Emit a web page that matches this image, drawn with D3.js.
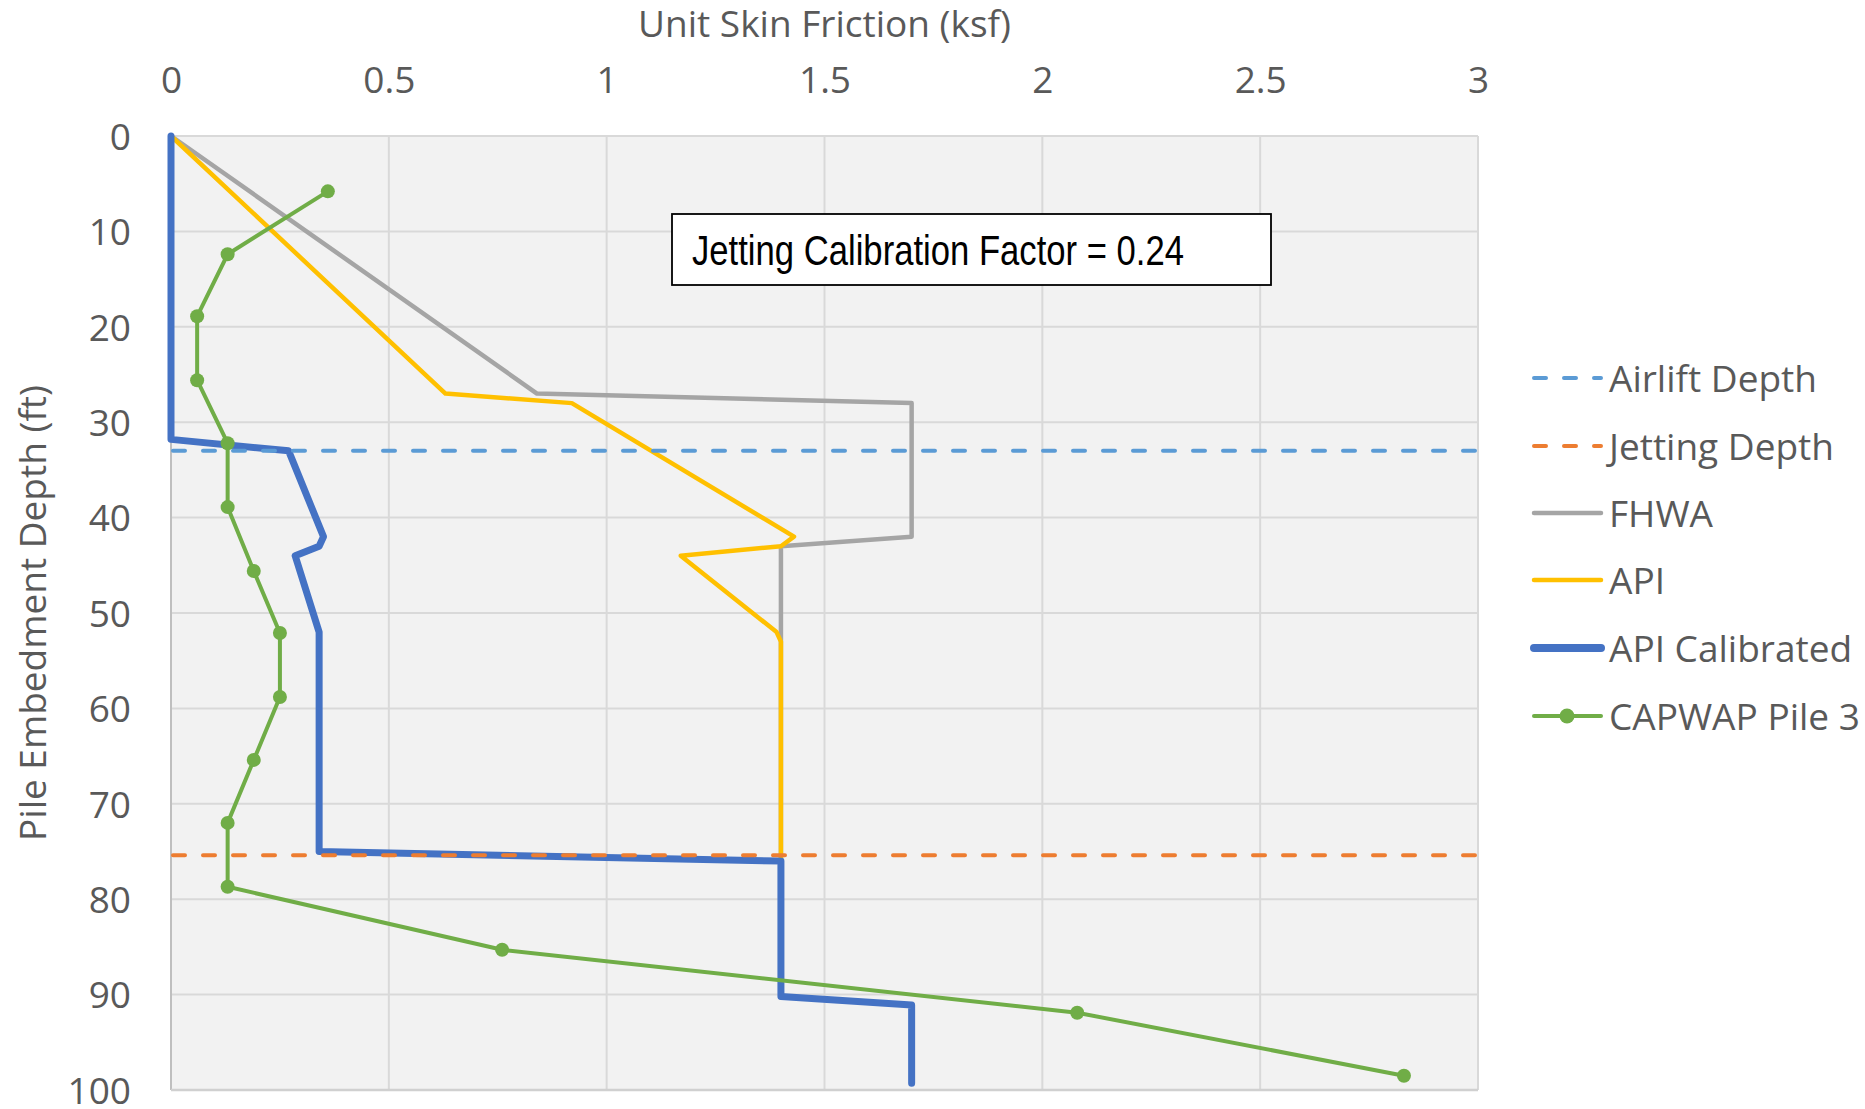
<!DOCTYPE html>
<html>
<head>
<meta charset="utf-8">
<script src="https://cdn.jsdelivr.net/npm/d3@7"></script>
<style>
  html, body { margin: 0; padding: 0; background: #ffffff; }
  svg { display: block; }
</style>
</head>
<body>
<svg id="chart" width="1865" height="1109"></svg>
<script>
// ---------- DATA ----------
const xTicks = [0, 0.5, 1, 1.5, 2, 2.5, 3];
const yTicks = [0, 10, 20, 30, 40, 50, 60, 70, 80, 90, 100];

const airliftDepth = 33;
const jettingDepth = 75.4;

// [friction (ksf), depth (ft)]
const fhwa = [[0, 0], [0.84, 27], [1.70, 28], [1.70, 42], [1.40, 43], [1.40, 76]];
const api = [[0, 0], [0.63, 27], [0.92, 28], [1.43, 42], [1.40, 43], [1.17, 44], [1.39, 52], [1.40, 53], [1.40, 76]];
const apiCalibrated = [[0, 0], [0, 31.8], [0.27, 33], [0.35, 42], [0.34, 43], [0.285, 44], [0.34, 52], [0.34, 53], [0.34, 75],
  [1.40, 76], [1.40, 90.2], [1.70, 91.1], [1.70, 99.3]];
const capwapPile3 = [[0.36, 5.8], [0.13, 12.4], [0.06, 18.9], [0.06, 25.6], [0.13, 32.2], [0.13, 38.9], [0.19, 45.6],
  [0.25, 52.1], [0.25, 58.8], [0.19, 65.4], [0.13, 72.0], [0.13, 78.7], [0.76, 85.3], [2.08, 91.9], [2.83, 98.5]];

const legendNames = ["Airlift Depth", "Jetting Depth", "FHWA", "API", "API Calibrated", "CAPWAP Pile 3"];
const annotationText = "Jetting Calibration Factor = 0.24";
const xTitle = "Unit Skin Friction (ksf)";
const yTitle = "Pile Embedment Depth (ft)";

// ---------- LAYOUT ----------
const plot = { left: 171, right: 1478, top: 136, bottom: 1090 };
const colors = {
  airlift: "#5b9bd5", jetting: "#ed7d31", fhwa: "#a5a5a5",
  api: "#ffc000", apiCal: "#4472c4", capwap: "#70ad47"
};
const textColor = "#595959";
const font = "'Open Sans', sans-serif";

const svg = d3.select("#chart");
svg.append("rect").attr("width", 1865).attr("height", 1109).attr("fill", "#ffffff");

const x = d3.scaleLinear().domain([0, 3]).range([plot.left, plot.right]);
const y = d3.scaleLinear().domain([0, 100]).range([plot.top, plot.bottom]);

// plot background
svg.append("rect")
  .attr("x", plot.left).attr("y", plot.top)
  .attr("width", plot.right - plot.left).attr("height", plot.bottom - plot.top)
  .attr("fill", "#f2f2f2");

// gridlines
const grid = svg.append("g");
grid.selectAll("line.v").data(xTicks).join("line")
  .attr("x1", d => x(d)).attr("x2", d => x(d))
  .attr("y1", plot.top).attr("y2", plot.bottom)
  .attr("stroke", "#d9d9d9").attr("stroke-width", 2);
grid.selectAll("line.h").data(yTicks).join("line")
  .attr("y1", d => y(d)).attr("y2", d => y(d))
  .attr("x1", plot.left).attr("x2", plot.right)
  .attr("stroke", "#d9d9d9").attr("stroke-width", 2);
// axis lines (left and bottom)
svg.append("line").attr("x1", plot.left).attr("x2", plot.left).attr("y1", plot.top).attr("y2", plot.bottom)
  .attr("stroke", "#bfbfbf").attr("stroke-width", 2);
svg.append("line").attr("x1", plot.left).attr("x2", plot.right).attr("y1", plot.bottom).attr("y2", plot.bottom)
  .attr("stroke", "#d0d0d0").attr("stroke-width", 2.5);

// axes
const xAxis = d3.axisTop(x).tickValues(xTicks).tickSize(0).tickPadding(43).tickFormat(d3.format("~g"));
const gx = svg.append("g").attr("transform", `translate(0,${plot.top})`).call(xAxis);
gx.select(".domain").remove();
gx.selectAll("text").attr("fill", textColor).style("font-family", font).style("font-size", "37px");

const yAxis = d3.axisLeft(y).tickValues(yTicks).tickSize(0).tickPadding(40).tickFormat(d3.format("d"));
const gy = svg.append("g").attr("transform", `translate(${plot.left},0)`).call(yAxis);
gy.select(".domain").remove();
gy.selectAll("text").attr("fill", textColor).attr("dy", "0.36em").style("font-family", font).style("font-size", "37px");

// axis titles
svg.append("text").attr("x", (plot.left + plot.right) / 2).attr("y", 37)
  .attr("text-anchor", "middle").attr("fill", textColor)
  .style("font-family", font).style("font-size", "37px").text(xTitle);
svg.append("text").attr("transform", `translate(46,${(plot.top + plot.bottom) / 2}) rotate(-90)`)
  .attr("text-anchor", "middle").attr("fill", textColor)
  .style("font-family", font).style("font-size", "37px").text(yTitle);

// series
const line = d3.line().x(d => x(d[0])).y(d => y(d[1]));
const series = svg.append("g").attr("fill", "none").attr("stroke-linejoin", "round");
series.append("path").datum(fhwa).attr("d", line).attr("stroke", colors.fhwa).attr("stroke-width", 4.5);
series.append("path").datum(api).attr("d", line).attr("stroke", colors.api).attr("stroke-width", 4.5);
series.append("path").datum(apiCalibrated).attr("d", line).attr("stroke", colors.apiCal).attr("stroke-width", 7)
  .attr("stroke-linecap", "round");
series.append("path").datum(capwapPile3).attr("d", line).attr("stroke", colors.capwap).attr("stroke-width", 4);
svg.append("g").selectAll("circle").data(capwapPile3).join("circle")
  .attr("cx", d => x(d[0])).attr("cy", d => y(d[1])).attr("r", 7).attr("fill", colors.capwap);

// depth reference lines
[[airliftDepth, colors.airlift], [jettingDepth, colors.jetting]].forEach(([d, c]) => {
  svg.append("line").attr("x1", x(0) + 2).attr("x2", x(3)).attr("y1", y(d)).attr("y2", y(d))
    .attr("stroke", c).attr("stroke-width", 4).attr("stroke-dasharray", "12,18").attr("stroke-linecap", "round");
});

// annotation box
svg.append("rect").attr("x", 672).attr("y", 214).attr("width", 599).attr("height", 71)
  .attr("fill", "#ffffff").attr("stroke", "#000000").attr("stroke-width", 1.8);
svg.append("text").attr("x", 692).attr("y", 265)
  .attr("textLength", 492).attr("lengthAdjust", "spacingAndGlyphs")
  .attr("fill", "#000000")
  .style("font-family", "'Liberation Sans Narrow', 'Arial Narrow', 'Liberation Sans', sans-serif")
  .style("font-size", "43px").text(annotationText);

// legend
const legendRowsY = [378, 446, 513, 580, 648, 716];
const lg = svg.append("g");
legendNames.forEach((name, i) => {
  const yy = legendRowsY[i];
  const g = lg.append("g");
  const l = g.append("line").attr("x1", 1534).attr("x2", 1601).attr("y1", yy).attr("y2", yy);
  if (i === 0) l.attr("stroke", colors.airlift).attr("stroke-width", 4).attr("stroke-dasharray", "12,18").attr("stroke-linecap", "round");
  if (i === 1) l.attr("stroke", colors.jetting).attr("stroke-width", 4).attr("stroke-dasharray", "12,18").attr("stroke-linecap", "round");
  if (i === 2) l.attr("stroke", colors.fhwa).attr("stroke-width", 4.5).attr("stroke-linecap", "round");
  if (i === 3) l.attr("stroke", colors.api).attr("stroke-width", 4.5).attr("stroke-linecap", "round");
  if (i === 4) l.attr("stroke", colors.apiCal).attr("stroke-width", 8).attr("stroke-linecap", "round");
  if (i === 5) {
    l.attr("stroke", colors.capwap).attr("stroke-width", 4).attr("stroke-linecap", "round");
    g.append("circle").attr("cx", 1567).attr("cy", yy).attr("r", 7.5).attr("fill", colors.capwap);
  }
  g.append("text").attr("x", 1609).attr("y", yy + 13.5).attr("fill", textColor)
    .style("font-family", font).style("font-size", "37px").text(name);
});
</script>
</body>
</html>
